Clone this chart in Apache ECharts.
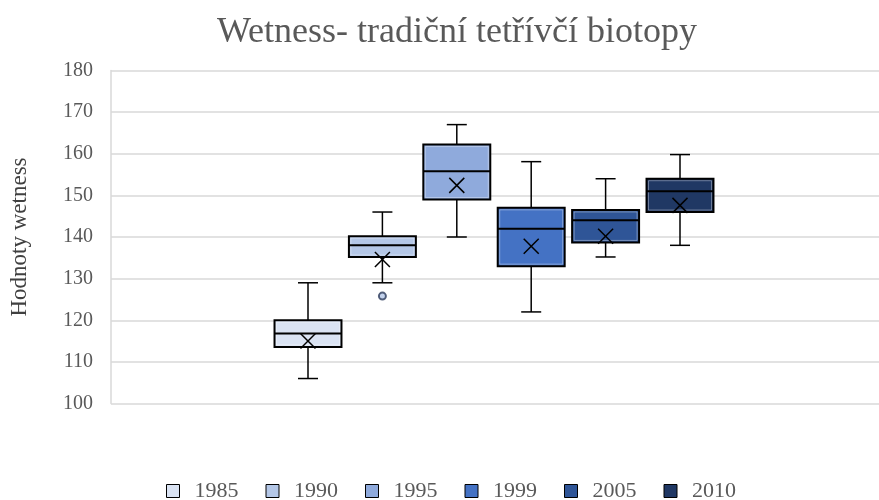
<!DOCTYPE html>
<html>
<head>
<meta charset="utf-8">
<script src="https://cdn.jsdelivr.net/npm/echarts@6/dist/echarts.min.js"></script>
<style>html,body{margin:0;padding:0;background:#fff;}#chart{width:879px;height:500px;}</style>
</head>
<body>
<div id="chart"></div>
<script>
const years = ['1985', '1990', '1995', '1999', '2005', '2010'];
const mins = [106, 129, 140, 122, 135.2, 138];
const q1s = [113.6, 135.2, 149, 133, 138.7, 146];
const medians = [116.8, 138, 155.8, 142, 144, 151];
const q3s = [120, 140.2, 162.2, 147, 146.5, 154];
const maxs = [129, 146, 167, 158.1, 154, 159.8];
const means = [115, 134.6, 152.4, 137.8, 140.2, 147.6];
const outlierYears = ['1990'];
const outlierValues = [125.8];
const colors = ['#dae3f3', '#b4c7e7', '#8faadc', '#4472c4', '#2f5597', '#203864'];
const yTicks = { min: 100, max: 180, interval: 10 };

const SERIF = '"Liberation Serif", "DejaVu Serif", serif';

function renderBox(params, api) {
  const c = api.value(0);
  const pMin = api.coord([c, api.value(1)]);
  const pQ1 = api.coord([c, api.value(2)]);
  const pMed = api.coord([c, api.value(3)]);
  const pQ3 = api.coord([c, api.value(4)]);
  const pMax = api.coord([c, api.value(5)]);
  const pMean = api.coord([c, api.value(6)]);
  const band = api.size([1, 0])[0];
  const w = band * 0.9;
  const half = w / 2;
  const cap = 10;
  const x = pMed[0];
  const fill = api.visual('color');
  const lineStyle = { stroke: '#000', lineWidth: 1.5 };
  const xs = 7.5;
  return {
    type: 'group',
    children: [
      { type: 'line', shape: { x1: x, y1: pMax[1], x2: x, y2: pQ3[1] }, style: lineStyle },
      { type: 'line', shape: { x1: x, y1: pQ1[1], x2: x, y2: pMin[1] }, style: lineStyle },
      { type: 'line', shape: { x1: x - cap, y1: pMax[1], x2: x + cap, y2: pMax[1] }, style: lineStyle },
      { type: 'line', shape: { x1: x - cap, y1: pMin[1], x2: x + cap, y2: pMin[1] }, style: lineStyle },
      { type: 'rect', shape: { x: x - half, y: pQ3[1], width: w, height: pQ1[1] - pQ3[1] },
        style: { fill: fill, stroke: '#000', lineWidth: 2 } },
      { type: 'rect', shape: { x: x - half + 2, y: pQ3[1] + 2, width: w - 4, height: pQ1[1] - pQ3[1] - 4 },
        style: { fill: 'none', stroke: 'rgba(255,255,255,0.35)', lineWidth: 1 } },
      { type: 'line', shape: { x1: x - half, y1: pMed[1], x2: x + half, y2: pMed[1] },
        style: { stroke: '#000', lineWidth: 2 } },
      { type: 'line', shape: { x1: pMean[0] - xs, y1: pMean[1] - xs, x2: pMean[0] + xs, y2: pMean[1] + xs },
        style: { stroke: '#000', lineWidth: 1.5 } },
      { type: 'line', shape: { x1: pMean[0] - xs, y1: pMean[1] + xs, x2: pMean[0] + xs, y2: pMean[1] - xs },
        style: { stroke: '#000', lineWidth: 1.5 } }
    ]
  };
}

const series = years.map((y, i) => ({
  name: y,
  type: 'custom',
  xAxisIndex: 1,
  yAxisIndex: 1,
  renderItem: renderBox,
  itemStyle: { color: colors[i] },
  encode: { x: 0, y: [1, 2, 3, 4, 5, 6] },
  data: [[i, mins[i], q1s[i], medians[i], q3s[i], maxs[i], means[i]]],
  z: 3
}));

outlierYears.forEach((y, k) => {
  const i = years.indexOf(y);
  series.push({
    name: y,
    type: 'scatter',
    xAxisIndex: 1,
    yAxisIndex: 1,
    symbol: 'circle',
    symbolSize: 7,
    itemStyle: { color: colors[i], borderColor: '#2a3a5a', borderWidth: 2 },
    data: [[i, outlierValues[k]]],
    z: 4
  });
});

const chart = echarts.init(document.getElementById('chart'), null, { renderer: 'canvas' });
chart.setOption({
  animation: false,
  backgroundColor: '#fff',
  title: {
    text: 'Wetness- tradiční tetřívčí biotopy',
    left: 212,
    top: 10,
    textStyle: { fontFamily: SERIF, fontSize: 36, fontWeight: 'normal', color: '#595959' }
  },
  legend: {
    data: years,
    left: 161,
    bottom: -7,
    itemWidth: 13,
    itemHeight: 13,
    itemGap: 27,
    icon: 'rect',
    itemStyle: { borderColor: '#000', borderWidth: 1 },
    textStyle: { fontFamily: SERIF, fontSize: 22, color: '#595959', padding: [0, 0, 0, 10] }
  },
  grid: [
    { left: 103, right: 0, top: 70.5, bottom: 96.5 },
    { left: 270.8, width: 446.4, top: 70.5, bottom: 96.5 }
  ],
  xAxis: [
    { type: 'category', gridIndex: 0, data: [''], show: false },
    { type: 'category', gridIndex: 1, data: years, show: false }
  ],
  yAxis: [
    {
      type: 'value', gridIndex: 0, min: yTicks.min, max: yTicks.max, interval: yTicks.interval,
      name: 'Hodnoty wetness', nameLocation: 'middle', nameGap: 80,
      nameTextStyle: { fontFamily: SERIF, fontSize: 23, color: '#404040' },
      axisLine: { show: true, lineStyle: { color: '#d9d9d9', width: 1.5 } },
      axisTick: { show: false },
      axisLabel: { fontFamily: SERIF, fontSize: 20, color: '#595959', margin: 18 },
      splitLine: { show: true, lineStyle: { color: '#d9d9d9', width: 1.5 } }
    },
    {
      type: 'value', gridIndex: 1, min: yTicks.min, max: yTicks.max, interval: yTicks.interval,
      show: false, splitLine: { show: false }
    }
  ],
  series: series
});
</script>
</body>
</html>
